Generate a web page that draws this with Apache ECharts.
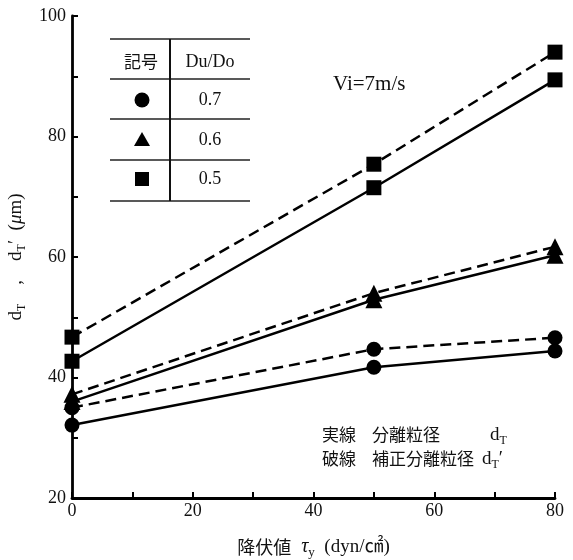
<!DOCTYPE html>
<html>
<head>
<meta charset="utf-8">
<script src="https://cdn.jsdelivr.net/npm/echarts@6/dist/echarts.min.js"></script>
<style>html,body{margin:0;padding:0;background:#fff}#c{width:573px;height:560px}</style>
</head>
<body>
<div id="c"></div>
<script>
// x values (降伏値 τy)
const xValues = [0, 50, 80];
// Du/Do = 0.7 (circle)
const solid07 = [32.1, 41.7, 44.4];
const dashed07 = [35.0, 44.7, 46.6];
// Du/Do = 0.6 (triangle)
const solid06 = [36.0, 52.9, 60.3];
const dashed06 = [37.2, 54.0, 61.7];
// Du/Do = 0.5 (square)
const solid05 = [42.7, 71.5, 89.4];
const dashed05 = [46.7, 75.4, 94.0];
const legendRows = ['0.7', '0.6', '0.5'];

const FONT = "'Liberation Serif', 'Noto Sans CJK JP', serif";
const CJK = "'Noto Sans CJK JP', 'Liberation Serif', serif";

function pts(ys) { return xValues.map((x, i) => [x, ys[i]]); }

function mk(name, ys, symbol, size, dashed) {
  return {
    name: name, type: 'line', data: pts(ys), symbol: symbol, symbolSize: size,
    clip: false,
    itemStyle: { color: '#000' },
    lineStyle: { color: '#000', width: 2.5, type: dashed ? [11, 6] : 'solid' },
    emphasis: { disabled: true }, z: 3
  };
}

const chart = echarts.init(document.getElementById('c'), null, { renderer: 'canvas' });

const axisCommon = {
  axisLine: { lineStyle: { color: '#000', width: 2.8 } },
  axisTick: { inside: true, length: 6, lineStyle: { color: '#000', width: 2 } },
  splitLine: { show: false },
  axisLabel: { color: '#111', fontFamily: FONT, fontSize: 18 }
};

const rowY = [100, 140, 179];
const graphics = [];
// table lines
[39, 79, 119, 160, 201].forEach(y => graphics.push({
  type: 'line', shape: { x1: 110, y1: y, x2: 250, y2: y },
  style: { stroke: '#222', lineWidth: 1.5 }
}));
graphics.push({ type: 'line', shape: { x1: 170, y1: 39, x2: 170, y2: 201 }, style: { stroke: '#111', lineWidth: 2 } });
graphics.push({ type: 'text', x: 141, y: 62, style: { text: '記号', font: "17px " + CJK, fill: '#111', textAlign: 'center', textVerticalAlign: 'middle' } });
graphics.push({ type: 'text', x: 210, y: 62, style: { text: 'Du/Do', font: "18px " + FONT, fill: '#111', textAlign: 'center', textVerticalAlign: 'middle' } });
legendRows.forEach((t, i) => graphics.push({
  type: 'text', x: 210, y: rowY[i], style: { text: t, font: "18px " + FONT, fill: '#111', textAlign: 'center', textVerticalAlign: 'middle' }
}));
graphics.push({ type: 'circle', shape: { cx: 142, cy: rowY[0], r: 7.5 }, style: { fill: '#000' } });
graphics.push({ type: 'polygon', shape: { points: [[142, rowY[1] - 8], [150, rowY[1] + 6], [134, rowY[1] + 6]] }, style: { fill: '#000' } });
graphics.push({ type: 'rect', shape: { x: 135, y: rowY[2] - 7, width: 14, height: 14 }, style: { fill: '#000' } });
// Vi text
graphics.push({ type: 'text', x: 333, y: 84, style: { text: 'Vi=7m/s', font: "21px " + FONT, fill: '#111', textVerticalAlign: 'middle' } });
// annotation
const annRich = {
  a: { fontFamily: FONT, fontSize: 19, fill: '#111', lineHeight: 24, verticalAlign: 'middle' },
  s: { fontFamily: FONT, fontSize: 12, fill: '#111', lineHeight: 12, verticalAlign: 'bottom' }
};
graphics.push({ type: 'text', x: 322, y: 435, style: { text: '実線', font: "17px " + CJK, fill: '#111', textVerticalAlign: 'middle' } });
graphics.push({ type: 'text', x: 372, y: 435, style: { text: '分離粒径', font: "17px " + CJK, fill: '#111', textVerticalAlign: 'middle' } });
graphics.push({ type: 'text', x: 490, y: 435, style: { text: '{a|d}{s|T}', rich: annRich, textVerticalAlign: 'middle' } });
graphics.push({ type: 'text', x: 322, y: 459, style: { text: '破線', font: "17px " + CJK, fill: '#111', textVerticalAlign: 'middle' } });
graphics.push({ type: 'text', x: 372, y: 459, style: { text: '補正分離粒径', font: "17px " + CJK, fill: '#111', textVerticalAlign: 'middle' } });
graphics.push({ type: 'text', x: 482, y: 459, style: { text: "{a|d}{s|T}{a|′}", rich: annRich, textVerticalAlign: 'middle' } });

chart.setOption({
  animation: false,
  backgroundColor: '#fff',
  grid: { left: 72, right: 18, top: 16, bottom: 62, containLabel: false, outerBoundsMode: 'none' },
  xAxis: Object.assign({}, axisCommon, {
    type: 'value', min: 0, max: 80, interval: 10,
    axisLabel: Object.assign({}, axisCommon.axisLabel, { margin: 4, formatter: v => (v % 20 === 0 ? String(v) : '') }),
    name: '{c|降伏値}{g|  τ}{s|y}{a|  (dyn/㎠)}',
    nameLocation: 'middle', nameGap: 37,
    nameTextStyle: {
      rich: {
        c: { fontFamily: CJK, fontSize: 18, color: '#111', lineHeight: 24 },
        g: { fontFamily: FONT, fontSize: 20, fontStyle: 'italic', color: '#111', lineHeight: 24 },
        s: { fontFamily: FONT, fontSize: 13, color: '#111', lineHeight: 12, verticalAlign: 'bottom' },
        a: { fontFamily: FONT, fontSize: 19, color: '#111', lineHeight: 24 }
      }
    }
  }),
  yAxis: Object.assign({}, axisCommon, {
    type: 'value', min: 20, max: 100, interval: 10,
    axisLabel: Object.assign({}, axisCommon.axisLabel, { margin: 6, formatter: v => (v % 20 === 0 ? String(v) : '') }),
    name: "{a|d}{s|T}{a|    ,    d}{s|T}{a|′  (}{i|μ}{a|m)}",
    nameLocation: 'middle', nameGap: 40, nameRotate: 90,
    nameTextStyle: {
      rich: {
        a: { fontFamily: FONT, fontSize: 19, color: '#111', lineHeight: 24 },
        i: { fontFamily: FONT, fontSize: 19, fontStyle: 'italic', color: '#111', lineHeight: 24 },
        s: { fontFamily: FONT, fontSize: 12, color: '#111', lineHeight: 12, verticalAlign: 'bottom' }
      }
    }
  }),
  series: [
    mk('0.7 実線', solid07, 'circle', 15, false),
    mk('0.7 破線', dashed07, 'circle', 15, true),
    mk('0.6 実線', solid06, 'triangle', 17, false),
    mk('0.6 破線', dashed06, 'triangle', 17, true),
    mk('0.5 実線', solid05, 'rect', 15, false),
    mk('0.5 破線', dashed05, 'rect', 15, true)
  ],
  graphic: graphics
});
</script>
</body>
</html>
